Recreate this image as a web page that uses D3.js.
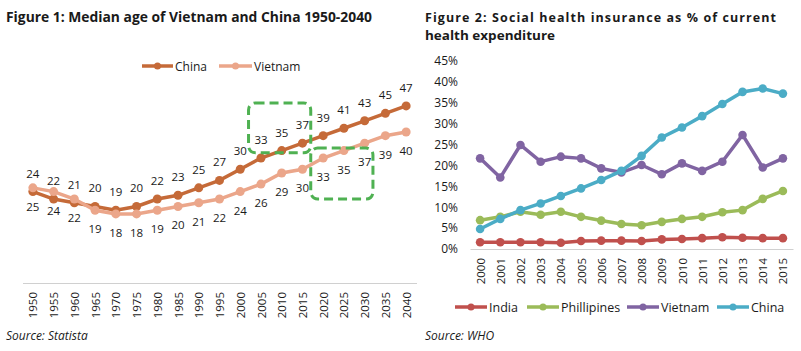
<!DOCTYPE html>
<html lang="en">
<head>
<meta charset="UTF-8">
<title>Median age and social health insurance</title>
<script src="https://cdn.jsdelivr.net/npm/d3@7"></script>
<style>
	body { margin: 0; background: #fff; }
	svg text { font-family: "Open Sans", sans-serif; fill: #1a1a1a; }
</style>
</head>
<body>
<div id="viz"></div>
<script>
	// ---- figure 1 data ----
	var ageYears = [1950, 1955, 1960, 1965, 1970, 1975, 1980, 1985, 1990, 1995,
		2000, 2005, 2010, 2015, 2020, 2025, 2030, 2035, 2040];
	var chinaAge = [24, 22, 21, 20, 19, 20, 22, 23, 25, 27, 30, 33, 35, 37, 39, 41, 43, 45, 47];
	var vietnamAge = [25, 24, 22, 19, 18, 18, 19, 20, 21, 22, 24, 26, 29, 30, 33, 35, 37, 39, 40];
	// dashed highlight boxes: year span + value span
	var highlightBoxes = [
		{from: 2005, to: 2015, lo: 34.4, hi: 47.8},
		{from: 2020, to: 2030, lo: 22.0, hi: 35.7}
	];

	// ---- figure 2 data ----
	var shiYears = [2000, 2001, 2002, 2003, 2004, 2005, 2006, 2007,
		2008, 2009, 2010, 2011, 2012, 2013, 2014, 2015];
	var india = [1.6, 1.6, 1.6, 1.6, 1.5, 1.9, 2.0, 2.0, 1.9, 2.3, 2.4, 2.6, 2.8, 2.7, 2.6, 2.6];
	var phillipines = [6.9, 7.7, 8.9, 8.2, 8.9, 7.7, 6.8, 6.0, 5.7, 6.5, 7.2, 7.7, 8.8, 9.3, 12.0, 13.9];
	var vietnamShi = [21.7, 17.1, 24.9, 20.9, 22.1, 21.7, 19.3, 18.3, 20.1, 17.9, 20.5, 18.7, 20.9, 27.3, 19.5, 21.7];
	var chinaShi = [4.8, 7.2, 9.3, 10.9, 12.7, 14.5, 16.5, 18.7, 22.3, 26.7, 29.1, 31.8, 34.7, 37.6, 38.4, 37.2];
	var shiTicks = [0, 5, 10, 15, 20, 25, 30, 35, 40, 45];

	var svg = d3.select('#viz').append('svg')
		.attr('width', 801)
		.attr('height', 351);

	// ================= Figure 1 =================
	var x1 = d3.scalePoint()
		.domain(ageYears)
		.range([22.5, 416.5])
		.padding(0.5);

	var y1 = d3.scaleLinear()
		.domain([0, 50])
		.range([281, 94.7]);

	svg.append('text')
		.attr('x', 6).attr('y', 22)
		.attr('font-size', 15).attr('font-weight', 'bold')
		.attr('textLength', 366).attr('lengthAdjust', 'spacingAndGlyphs')
		.text('Figure 1: Median age of Vietnam and China 1950-2040');

	var gx1 = svg.append('g')
		.attr('transform', 'translate(0,283)')
		.call(d3.axisBottom(x1).tickSize(0).tickSizeOuter(0));
	gx1.select('.domain').attr('stroke', '#d0d0d0').attr('stroke-width', 1);
	gx1.selectAll('text')
		.attr('font-size', 11.5)
		.attr('fill', '#1a1a1a')
		.attr('text-anchor', 'end')
		.attr('transform', 'translate(0,9) rotate(-90)')
		.attr('x', 0).attr('y', 0).attr('dy', '0.35em');

	var ageSeries = [
		{name: 'China', values: chinaAge, color: '#c56a38', labelDy: -14},
		{name: 'Vietnam', values: vietnamAge, color: '#eba68a', labelDy: 23}
	];

	var line1 = d3.line()
		.x(function (d, i) { return x1(ageYears[i]); })
		.y(function (d) { return y1(d); });

	ageSeries.forEach(function (s) {
		svg.append('path')
			.datum(s.values)
			.attr('fill', 'none')
			.attr('stroke', s.color)
			.attr('stroke-width', 3.5)
			.attr('d', line1);
		svg.selectAll('.pt-' + s.name)
			.data(s.values)
			.enter().append('circle')
			.attr('cx', function (d, i) { return x1(ageYears[i]); })
			.attr('cy', function (d) { return y1(d); })
			.attr('r', 4.5)
			.attr('fill', s.color);
	});

	ageSeries.forEach(function (s) {
		svg.selectAll('.lbl-' + s.name)
			.data(s.values)
			.enter().append('text')
			.attr('x', function (d, i) { return x1(ageYears[i]); })
			.attr('y', function (d) { return y1(d) + s.labelDy; })
			.attr('text-anchor', 'middle')
			.attr('font-size', 11.5)
			.text(function (d) { return d; });
	});

	svg.selectAll('.hbox')
		.data(highlightBoxes)
		.enter().append('rect')
		.attr('x', function (d) { return x1(d.from) - x1.step() * 0.6; })
		.attr('y', function (d) { return y1(d.hi); })
		.attr('width', function (d) { return x1(d.to) - x1(d.from) + x1.step(); })
		.attr('height', function (d) { return y1(d.lo) - y1(d.hi); })
		.attr('rx', 7)
		.attr('fill', 'none')
		.attr('stroke', '#4fb152')
		.attr('stroke-width', 3)
		.attr('stroke-dasharray', '9,5');

	// legend 1
	var leg1 = [{x: 142, w: 31}, {x: 219, w: 33}];
	ageSeries.forEach(function (s, i) {
		var g = svg.append('g').attr('transform', 'translate(' + leg1[i].x + ',66)');
		g.append('line').attr('x1', 0).attr('x2', leg1[i].w)
			.attr('stroke', s.color).attr('stroke-width', 3.5);
		g.append('circle').attr('cx', leg1[i].w / 2).attr('r', 3.5).attr('fill', s.color);
		g.append('text').attr('x', leg1[i].w + 2).attr('y', 5)
			.attr('font-size', 12).text(s.name);
	});

	svg.append('text')
		.attr('x', 6).attr('y', 340)
		.attr('font-size', 12).attr('font-style', 'italic')
		.text('Source: Statista');

	// ================= Figure 2 =================
	var x2 = d3.scalePoint()
		.domain(shiYears)
		.range([470, 793])
		.padding(0.5);

	var y2 = d3.scaleLinear()
		.domain([0, 45])
		.range([249, 61]);

	svg.append('text')
		.attr('x', 425).attr('y', 22)
		.attr('font-family', 'DejaVu Sans').attr('font-size', 12.5).attr('font-weight', 'bold')
		.attr('textLength', 351).attr('lengthAdjust', 'spacing')
		.text('Figure 2: Social health insurance as % of current');
	svg.append('text')
		.attr('x', 425).attr('y', 39.5)
		.attr('font-family', 'DejaVu Sans').attr('font-size', 12.5).attr('font-weight', 'bold')
		.attr('textLength', 130).attr('lengthAdjust', 'spacingAndGlyphs')
		.text('health expenditure');

	var gy2 = svg.append('g')
		.attr('transform', 'translate(470,0)')
		.call(d3.axisLeft(y2).tickValues(shiTicks).tickSize(0).tickPadding(12)
			.tickFormat(function (d) { return d + '%'; }));
	gy2.select('.domain').remove();
	gy2.selectAll('text').attr('font-size', 12).attr('fill', '#1a1a1a');

	var gx2 = svg.append('g')
		.attr('transform', 'translate(0,249)')
		.call(d3.axisBottom(x2).tickSize(0).tickSizeOuter(0));
	gx2.select('.domain').attr('stroke', '#d0d0d0').attr('stroke-width', 1);
	gx2.selectAll('text')
		.attr('font-size', 11.5)
		.attr('fill', '#1a1a1a')
		.attr('text-anchor', 'end')
		.attr('transform', 'translate(0,9) rotate(-90)')
		.attr('x', 0).attr('y', 0).attr('dy', '0.35em');

	var shiSeries = [
		{name: 'India', values: india, color: '#c0504d'},
		{name: 'Phillipines', values: phillipines, color: '#9bbb59'},
		{name: 'Vietnam', values: vietnamShi, color: '#8064a2'},
		{name: 'China', values: chinaShi, color: '#4bacc6'}
	];

	var line2 = d3.line()
		.x(function (d, i) { return x2(shiYears[i]); })
		.y(function (d) { return y2(d); });

	shiSeries.forEach(function (s, k) {
		svg.append('path')
			.datum(s.values)
			.attr('fill', 'none')
			.attr('stroke', s.color)
			.attr('stroke-width', 3.5)
			.attr('d', line2);
		svg.selectAll('.spt' + k)
			.data(s.values)
			.enter().append('circle')
			.attr('cx', function (d, i) { return x2(shiYears[i]); })
			.attr('cy', function (d) { return y2(d); })
			.attr('r', 4.3)
			.attr('fill', s.color);
	});

	// legend 2
	var leg2 = [455, 527, 627, 717];
	shiSeries.forEach(function (s, i) {
		var g = svg.append('g').attr('transform', 'translate(' + leg2[i] + ',307)');
		g.append('line').attr('x1', 0).attr('x2', 32)
			.attr('stroke', s.color).attr('stroke-width', 3.5);
		g.append('circle').attr('cx', 16).attr('r', 3.5).attr('fill', s.color);
		g.append('text').attr('x', 34).attr('y', 5)
			.attr('font-size', 12.5).text(s.name);
	});

	svg.append('text')
		.attr('x', 425).attr('y', 340)
		.attr('font-size', 12).attr('font-style', 'italic')
		.text('Source: WHO');
</script>
</body>
</html>
